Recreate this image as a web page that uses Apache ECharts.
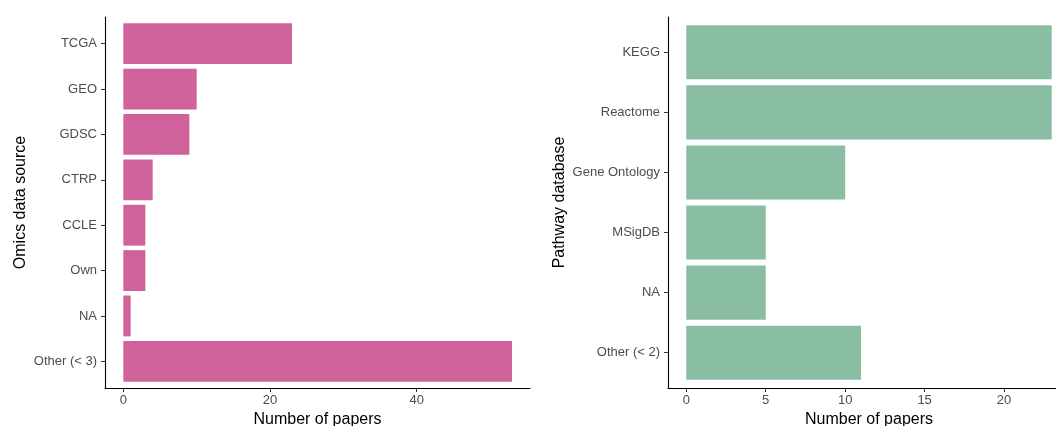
<!DOCTYPE html>
<html>
<head>
<meta charset="utf-8">
<script src="https://cdn.jsdelivr.net/npm/echarts@6/dist/echarts.min.js"></script>
<style>html,body{margin:0;padding:0;background:#fff}#c{width:1056px;height:426px}</style>
</head>
<body>
<div id="c"></div>
<script>
const omicsCategories = ["TCGA", "GEO", "GDSC", "CTRP", "CCLE", "Own", "NA", "Other (< 3)"];
const omicsValues = [23, 10, 9, 4, 3, 3, 1, 53];
const omicsTicks = [0, 20, 40];
const pathwayCategories = ["KEGG", "Reactome", "Gene Ontology", "MSigDB", "NA", "Other (< 2)"];
const pathwayValues = [23, 23, 10, 5, 5, 11];
const pathwayTicks = [0, 5, 10, 15, 20];

const FONT = 'Liberation Sans, Arial, sans-serif';
const labelStyle = {color: '#4d4d4d', fontSize: 13, fontFamily: FONT};
const nameStyle = {color: '#000', fontSize: 16, fontFamily: FONT};
const lineStyle = {color: '#000', width: 1.1};
const tickStyle = {color: '#333', width: 1};

function valueAxis(gridIndex, min, max, ticks, offset) {
  return {
    type: 'value', gridIndex, min, max, offset,
    name: 'Number of papers', nameLocation: 'middle', nameGap: 21, nameTextStyle: nameStyle,
    axisLine: {show: true, onZero: false, lineStyle},
    axisTick: {show: true, length: 4, lineStyle: tickStyle, customValues: ticks},
    axisLabel: Object.assign({margin: 6, customValues: ticks}, labelStyle),
    splitLine: {show: false}
  };
}
function catAxis(gridIndex, cats, name, nameGap) {
  return {
    type: 'category', gridIndex, data: cats, inverse: true,
    name, nameLocation: 'middle', nameGap, nameTextStyle: nameStyle,
    axisLine: {show: false, onZero: false},
    axisTick: {show: true, length: 4, alignWithLabel: true, lineStyle: tickStyle},
    axisLabel: Object.assign({margin: 8}, labelStyle),
    splitLine: {show: false}
  };
}
function frameAxes(gridIndex) {
  return [
    {type: 'value', gridIndex, show: false},
    {type: 'value', gridIndex, min: 0, max: 1,
     axisLine: {show: true, onZero: false, lineStyle}, axisTick: {show: false}, axisLabel: {show: false}, splitLine: {show: false}}
  ];
}
const fA = frameAxes(1), fB = frameAxes(3);
const gridBase = {containLabel: false, outerBoundsMode: 'none'};

const chart = echarts.init(document.getElementById('c'), null, {renderer: 'canvas'});
chart.setOption({
  animation: false,
  backgroundColor: '#fff',
  grid: [
    Object.assign({left: 105, top: 21, height: 363, width: 425}, gridBase),
    Object.assign({left: 105, top: 17, height: 371, width: 425}, gridBase),
    Object.assign({left: 668, top: 22.3, height: 360.4, width: 402}, gridBase),
    Object.assign({left: 668, top: 17, height: 371, width: 402}, gridBase)
  ],
  xAxis: [
    valueAxis(0, -2.5, 55.45, omicsTicks, 4),
    fA[0],
    valueAxis(2, -1.15, 24.15, pathwayTicks, 5.3),
    fB[0]
  ],
  yAxis: [
    catAxis(0, omicsCategories, 'Omics data source', 76),
    fA[1],
    catAxis(2, pathwayCategories, 'Pathway database', 100),
    fB[1]
  ],
  series: [
    {type: 'bar', xAxisIndex: 0, yAxisIndex: 0, data: omicsValues, barWidth: '90%',
     itemStyle: {color: '#CF629B'}},
    {type: 'bar', xAxisIndex: 2, yAxisIndex: 2, data: pathwayValues, barWidth: '90%',
     itemStyle: {color: '#89BEA3'}}
  ]
});
</script>
</body>
</html>
